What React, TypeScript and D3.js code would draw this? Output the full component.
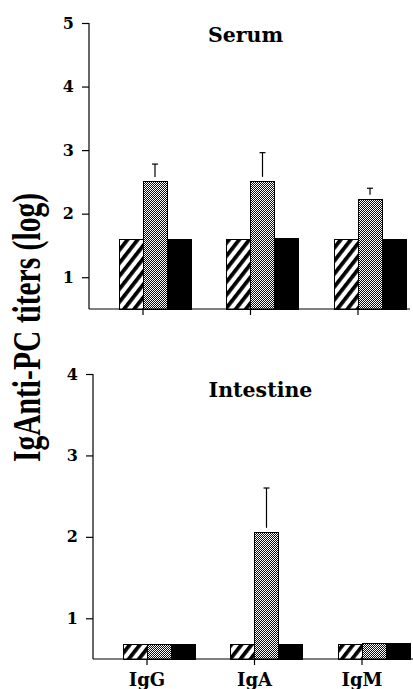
import React, { useEffect, useRef } from "react";
import * as d3 from "d3";

const categories = ["IgG", "IgA", "IgM"];
const seriesNames = ["hatched", "dotted", "solid"];

const serumHatched = [1.6, 1.6, 1.6];
const serumDotted = [2.5, 2.5, 2.22];
const serumSolid = [1.6, 1.61, 1.6];
const serumDottedErr = [2.78, 2.96, 2.4];
const serumTicks = [1, 2, 3, 4, 5];

const intestineHatched = [0.68, 0.68, 0.68];
const intestineDotted = [0.68, 2.05, 0.69];
const intestineSolid = [0.68, 0.68, 0.69];
const intestineDottedErr = [null, 2.6, null];
const intestineTicks = [1, 2, 3, 4];

const yTitle = "IgAnti-PC titers (log)";

const W = 413;
const H = 689;
const serifBold = "'DejaVu Serif', serif";

export default function App() {
  const svgRef = useRef<SVGSVGElement>(null);

  useEffect(() => {
    const svg = d3.select(svgRef.current);
    svg.selectAll("*").remove();

    const defs = svg.append("defs");
    const hatch = defs.append("pattern")
      .attr("id", "hatch")
      .attr("patternUnits", "userSpaceOnUse")
      .attr("width", 8).attr("height", 8)
      .attr("patternTransform", "rotate(38)");
    hatch.append("rect").attr("width", 8).attr("height", 8).attr("fill", "#fff");
    hatch.append("rect").attr("width", 3.8).attr("height", 8).attr("fill", "#000");

    const dots = defs.append("pattern")
      .attr("id", "dots")
      .attr("patternUnits", "userSpaceOnUse")
      .attr("width", 2).attr("height", 2);
    dots.append("rect").attr("width", 2).attr("height", 2).attr("fill", "#fff");
    dots.append("rect").attr("width", 1).attr("height", 1).attr("fill", "#111");
    dots.append("rect").attr("x", 1).attr("y", 1).attr("width", 1).attr("height", 1).attr("fill", "#111");

    const fills = ["url(#hatch)", "url(#dots)", "#000"];

    const panels = [
      {
        left: 89, top: 23, bottom: 309, width: 321, max: 5, ticks: serumTicks,
        values: [serumHatched, serumDotted, serumSolid], err: serumDottedErr,
        title: "Serum", titleX: 245.5, titleY: 42, labels: false,
      },
      {
        left: 93, top: 374, bottom: 659, width: 320, max: 4, ticks: intestineTicks,
        values: [intestineHatched, intestineDotted, intestineSolid], err: intestineDottedErr,
        title: "Intestine", titleX: 260.5, titleY: 397, labels: true,
      },
    ];

    panels.forEach(p => {
      const g = svg.append("g").attr("transform", "translate(" + p.left + ",0)");

      const y = d3.scaleLinear().domain([0.5, p.max]).range([p.bottom, p.top]);
      const x0 = d3.scalePoint().domain(categories).range([54, 269]);
      const x1 = d3.scaleBand().domain(seriesNames).range([-24, 48]);

      // bars
      categories.forEach((c, ci) => {
        seriesNames.forEach((s, si) => {
          const v = p.values[si][ci];
          g.append("rect")
            .attr("x", x0(c) + x1(s))
            .attr("y", y(v))
            .attr("width", x1.bandwidth())
            .attr("height", y(0.5) - y(v))
            .attr("fill", fills[si])
            .attr("stroke", "#000")
            .attr("stroke-width", 1)
            .attr("shape-rendering", "crispEdges");
        });

        const e = p.err[ci];
        if (e != null) {
          const cx = x0(c) + x1("dotted") + x1.bandwidth() / 2;
          g.append("line")
            .attr("x1", cx).attr("x2", cx)
            .attr("y1", y(p.values[1][ci]) - 5).attr("y2", y(e))
            .attr("stroke", "#000").attr("stroke-width", 1.2);
          g.append("line")
            .attr("x1", cx - 3).attr("x2", cx + 3)
            .attr("y1", y(e)).attr("y2", y(e))
            .attr("stroke", "#000").attr("stroke-width", 1.2);
        }
      });

      // y axis
      const yAxis = g.append("g")
        .call(d3.axisLeft(y).tickValues(p.ticks).tickFormat(d3.format("d"))
          .tickSize(7).tickPadding(8).tickSizeOuter(0));
      yAxis.select(".domain").attr("stroke", "#000").attr("stroke-width", 1.2)
        .attr("d", "M0," + y(0.5) + "V" + y(p.max));
      yAxis.selectAll(".tick line").attr("stroke", "#000").attr("stroke-width", 1.2);
      yAxis.selectAll(".tick text")
        .attr("font-family", serifBold)
        .attr("font-weight", "bold")
        .attr("font-size", 16)
        .attr("fill", "#000");

      // x axis
      g.append("line")
        .attr("x1", 0).attr("x2", p.width)
        .attr("y1", y(0.5)).attr("y2", y(0.5))
        .attr("stroke", "#000").attr("stroke-width", 1.2);
      g.selectAll(".xtick")
        .data(categories)
        .join("line")
        .attr("class", "xtick")
        .attr("x1", d => x0(d)).attr("x2", d => x0(d))
        .attr("y1", y(0.5)).attr("y2", y(0.5) + 6)
        .attr("stroke", "#000").attr("stroke-width", 1.2);

      if (p.labels) {
        g.selectAll(".xlabel")
          .data(categories)
          .join("text")
          .attr("class", "xlabel")
          .attr("x", d => x0(d))
          .attr("y", 686)
          .attr("text-anchor", "middle")
          .attr("font-family", serifBold)
          .attr("font-weight", "bold")
          .attr("font-size", 18)
          .text(d => d);
      }

      svg.append("text")
        .attr("x", p.titleX)
        .attr("y", p.titleY)
        .attr("text-anchor", "middle")
        .attr("font-family", serifBold)
        .attr("font-weight", "bold")
        .attr("font-size", 20.5)
        .text(p.title);
    });

    svg.append("text")
      .attr("transform", "translate(40,327.5) rotate(-90)")
      .attr("text-anchor", "middle")
      .attr("font-family", "'Liberation Serif', serif")
      .attr("font-weight", "bold")
      .attr("font-size", 40)
      .attr("textLength", 269)
      .attr("lengthAdjust", "spacingAndGlyphs")
      .text(yTitle);
  }, []);

  return (
    <div>
      <svg ref={svgRef} width={W} height={H}
        style={{ position: "absolute", left: 0, top: 0, background: "#fff" }} />
    </div>
  );
}
